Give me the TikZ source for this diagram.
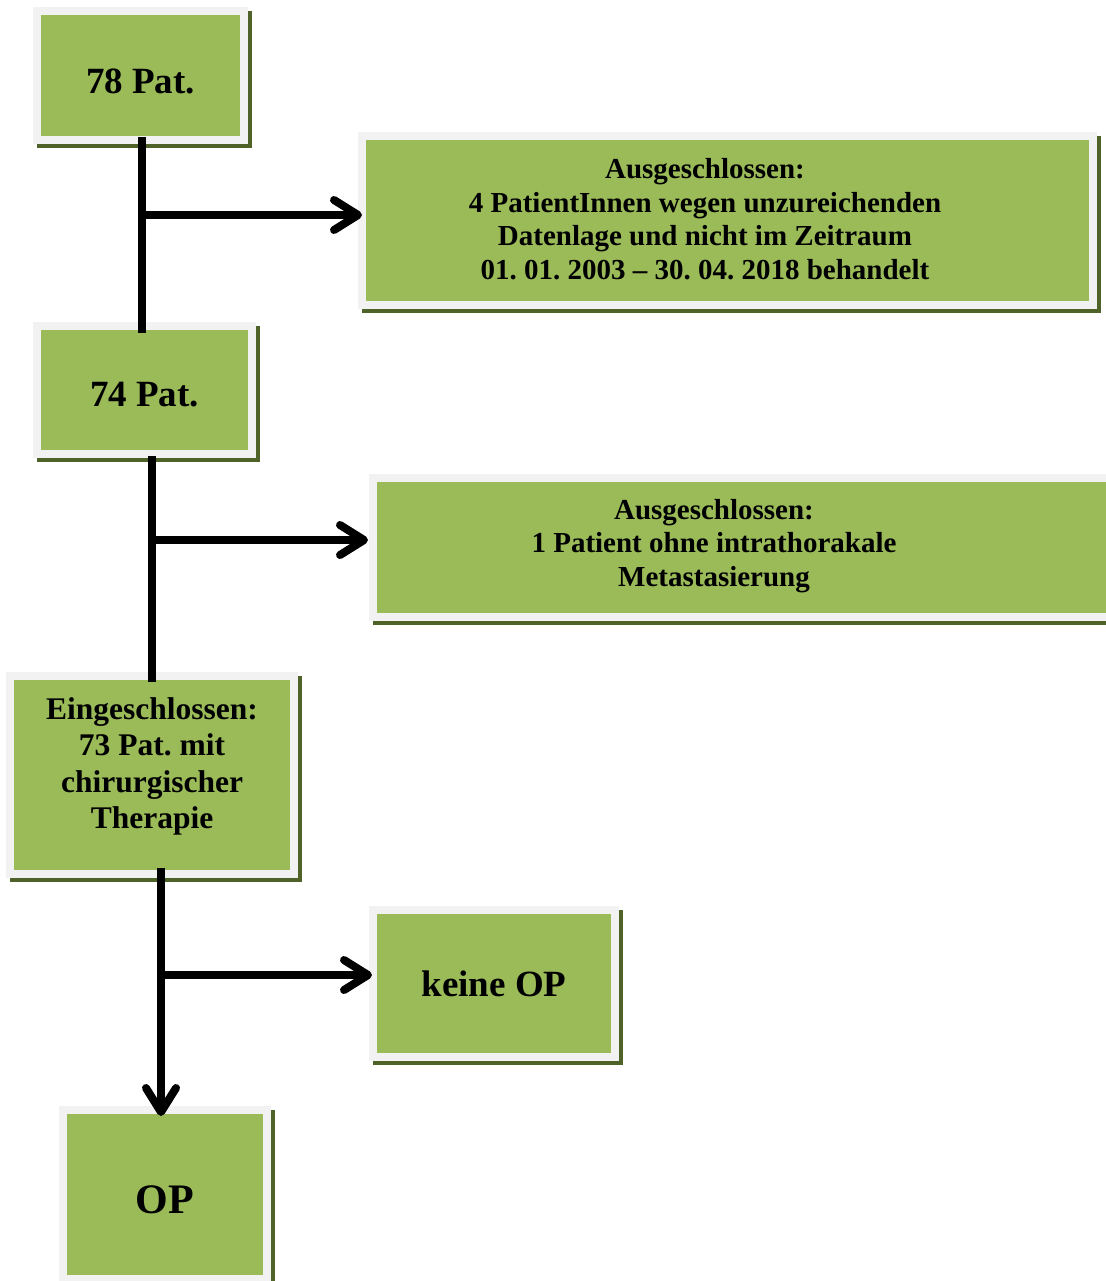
\documentclass[tikz,border=0pt]{standalone}
\usepackage{fontspec}
\setmainfont{Liberation Serif}
\usetikzlibrary{arrows.meta,backgrounds,calc}
\definecolor{boxgreen}{HTML}{9BBB59}
\definecolor{boxrim}{HTML}{F2F2F2}
\definecolor{boxshade}{HTML}{4F6228}
\frenchspacing
\begin{document}
\begin{tikzpicture}[x=1pt,y=-1pt,
  box/.style={draw=boxrim, line width=8pt, fill=boxgreen, inner sep=0pt},
  conn/.style={line width=8pt, draw=black},
  tipped/.style={-{Straight Barb[length=24pt,width=30pt,round]}},
  txt/.style={font=\bfseries, align=center, text=black, inner sep=0pt},
  bigtxt/.style={txt, font=\fontsize{37}{42}\selectfont\bfseries},
  smalltxt/.style={txt, font=\fontsize{29}{33.5}\selectfont\bfseries},
  midtxt/.style={txt, font=\fontsize{31.5}{36.5}\selectfont\bfseries}]
\useasboundingbox (0,0) rectangle (1105,1281);

% boxes
\node[box, minimum width=207pt, minimum height=129pt,
  label={[bigtxt, yshift=-5.5pt]center:78 Pat.}] (n1) at (140.5,75.5) {};
\node[box, minimum width=731pt, minimum height=169pt,
  label={[smalltxt, xshift=-22.5pt, yshift=1.5pt]center:{Ausgeschlossen:\\4 PatientInnen wegen unzureichenden\\Datenlage und nicht im Zeitraum\\01. 01. 2003 -- 30. 04. 2018 behandelt}}] (n2) at (727.5,220.5) {};
\node[box, minimum width=215pt, minimum height=128pt,
  label={[bigtxt, yshift=-5pt]center:74 Pat.}] (n3) at (144.5,390) {};
\node[box, minimum width=745pt, minimum height=139pt,
  label={[smalltxt, xshift=-31.5pt, yshift=1.5pt]center:{Ausgeschlossen:\\1 Patient ohne intrathorakale\\Metastasierung}}] (n4) at (745.5,547.5) {};
\node[box, minimum width=284pt, minimum height=198pt,
  label={[midtxt, yshift=8.5pt]center:{Eingeschlossen:\\73 Pat. mit\\chirurgischer\\Therapie}}] (n5) at (152,775) {};
\node[box, minimum width=242pt, minimum height=147pt,
  label={[bigtxt]center:keine OP}] (n6) at (494,983.5) {};
\node[box, minimum width=204pt, minimum height=169pt,
  label={[bigtxt, font=\fontsize{42}{48}\selectfont\bfseries, yshift=-5.5pt]center:OP}] (n7) at (165,1194.5) {};

% shadows
\begin{scope}[on background layer]
\foreach \n in {n1,n2,n3,n4,n5,n6,n7}
  \fill[boxshade] ([shift={(4pt,-4pt)}]\n.south west) rectangle ([shift={(4pt,-4pt)}]\n.north east);
\end{scope}

% junctions
\coordinate (j1) at (142,215);
\coordinate (j2) at (152,540);
\coordinate (j3) at (161,975);

% connectors
\draw[conn] ([yshift=7pt]n1.south -| j1) -- ([yshift=-11pt]n3.north -| j1);
\draw[conn, tipped] (j1) -- ([xshift=4pt]n2.west |- j1);
\draw[conn] ([yshift=2pt]n3.south -| j2) -- ([yshift=-10pt]n5.north -| j2);
\draw[conn, tipped] (j2) -- ([xshift=-1pt]n4.west |- j2);
\draw[conn, tipped] ([yshift=10pt]n5.south -| j3) -- ([yshift=-10pt]n7.north -| j3);
\draw[conn, tipped] (j3) -- ([xshift=3pt]n6.west |- j3);
\end{tikzpicture}
\end{document}
